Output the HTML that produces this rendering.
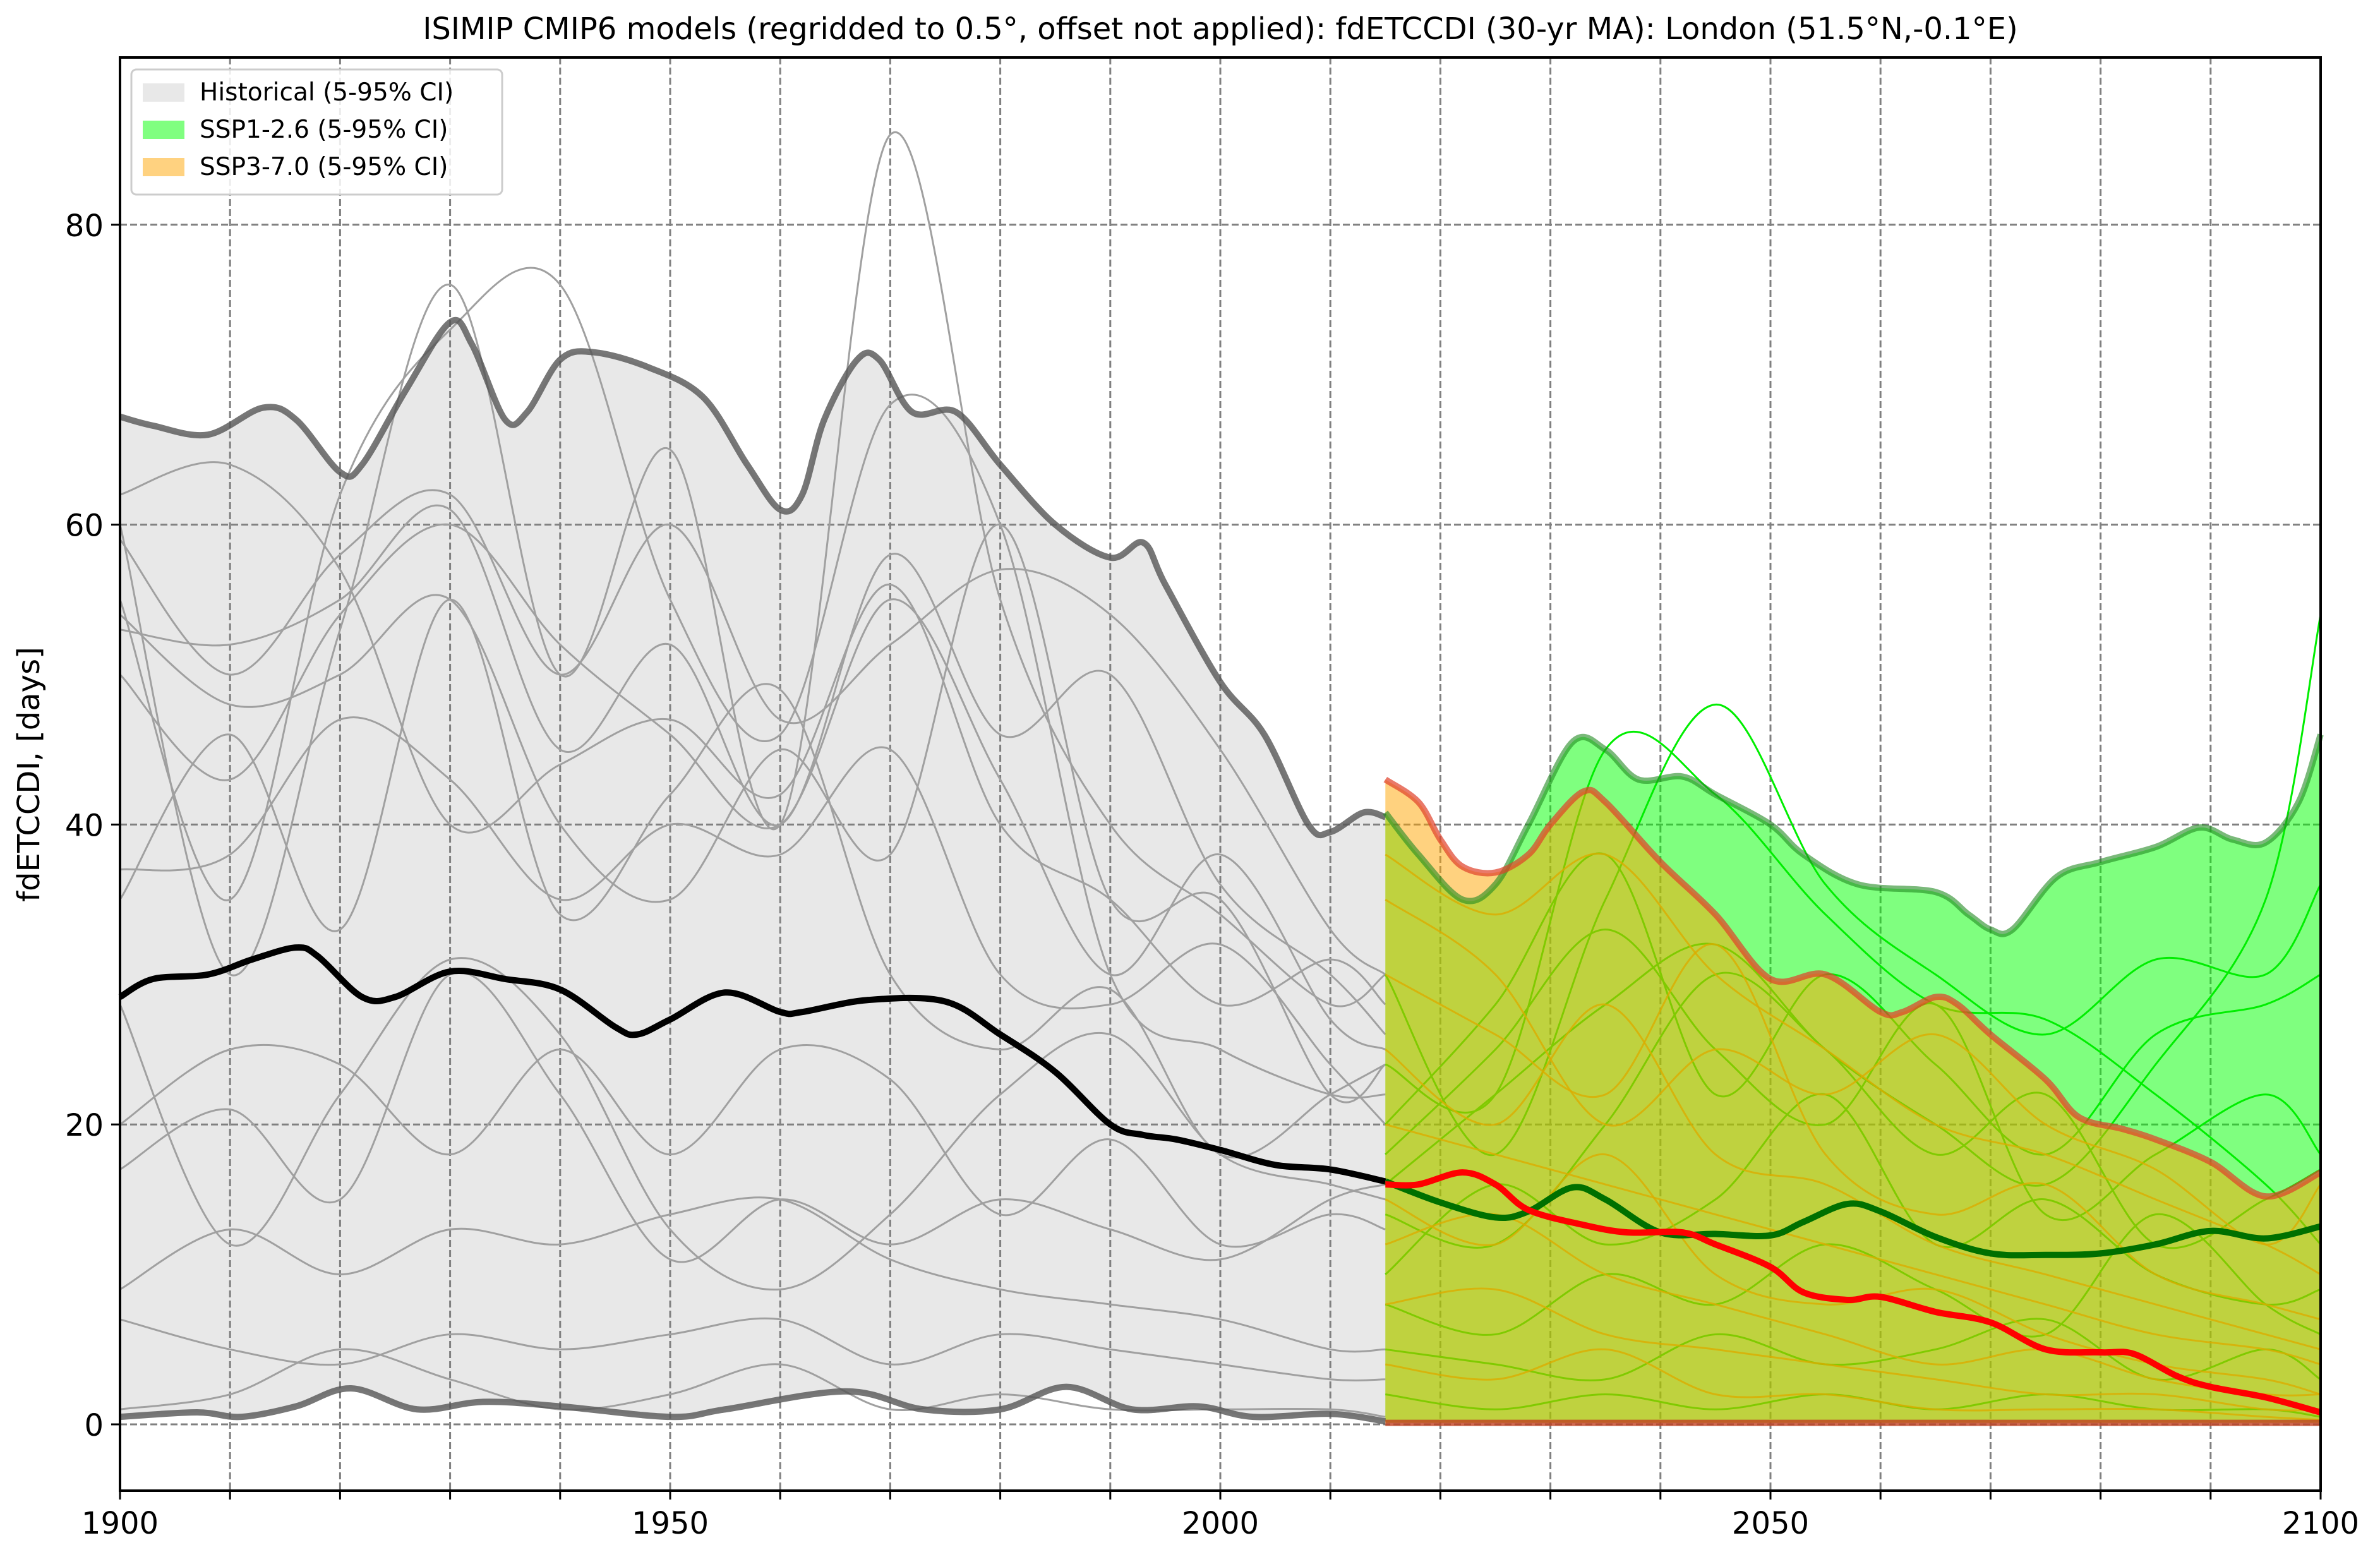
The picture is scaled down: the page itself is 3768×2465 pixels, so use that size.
<!DOCTYPE html>
<html><head><meta charset="utf-8"><style>
html,body{margin:0;padding:0;background:#fff}
svg{display:block;font-family:"DejaVu Sans","Liberation Sans",sans-serif}
</style></head><body>
<svg id="chart" width="3768" height="2465" viewBox="0 0 3768 2465" xmlns="http://www.w3.org/2000/svg">
<text x="1932" y="62" font-size="48" text-anchor="middle">ISIMIP CMIP6 models (regridded to 0.5°, offset not applied): fdETCCDI (30-yr MA): London (51.5°N,-0.1°E)</text>
<text transform="translate(62,1226) rotate(-90)" font-size="48" text-anchor="middle">fdETCCDI, [days]</text>
<g id="plot"></g>
</svg>
<script>
const histYears=[1900,1903,1908,1913,1916,1920,1922,1926,1930,1932,1935,1937,1940,1943,1948,1953,1957,1960,1962,1964,1967,1969,1972,1976,1980,1985,1990,1993,1995,2000,2004,2008,2010,2013,2015];
const histUpper=[67.2,66.6,66,67.8,67,63.5,64,69,73.5,72,67,67.5,71,71.5,70.5,68.5,64,61,62,67,71,71,67.5,67.5,64,60,57.8,58.8,56,49.5,46,40,39.5,40.8,40.5];
const histLowYears=[1900,1907,1911,1916,1921,1927,1933,1940,1950,1955,1966,1973,1980,1986,1992,1998,2003,2010,2015];
const histLower=[0.5,0.8,0.5,1.2,2.4,1,1.5,1.2,0.5,1,2.2,1,1,2.5,1,1.2,0.5,0.7,0.2];
const histMedYears=[1900,1903,1908,1912,1916,1918,1922,1925,1930,1935,1940,1945,1947,1950,1955,1960,1962,1968,1975,1980,1985,1990,1993,1996,2000,2005,2010,2015];
const histMedian=[28.5,29.7,30,31,31.8,31.2,28.5,28.5,30.2,29.7,29,26.5,26,27,28.8,27.5,27.5,28.3,28.2,26,23.5,20,19.3,19,18.3,17.3,17,16.2];
const ssp1Years=[2015,2018,2022,2025,2028,2032,2035,2038,2042,2045,2050,2053,2058,2065,2068,2070,2072,2076,2080,2085,2089,2092,2095,2098,2100];
const ssp1Upper=[40.8,38,35,36,40,45.5,45,43,43.2,42,40,38,36,35.5,34,33,33,36.5,37.5,38.5,39.8,39,38.8,41.5,46];
const ssp1MedYears=[2015,2020,2025,2028,2032,2035,2040,2045,2050,2053,2057,2060,2065,2070,2075,2080,2085,2090,2095,2100];
const ssp1Median=[16.2,14.8,13.8,14.2,15.8,15,12.8,12.7,12.6,13.5,14.7,14.2,12.5,11.4,11.3,11.4,12,12.9,12.4,13.2];
const ssp3Years=[2015,2018,2020,2022,2025,2028,2030,2033,2035,2040,2045,2050,2055,2060,2062,2065,2067,2070,2075,2078,2082,2085,2090,2095,2100];
const ssp3Upper=[43,41.5,39,37.2,36.8,38,40,42.2,41.5,37.5,34,29.7,30,27.5,27.5,28.5,28,26,23,20.5,19.7,19,17.5,15.2,16.8];
const ssp3MedYears=[2015,2018,2022,2025,2028,2033,2037,2042,2045,2050,2053,2057,2060,2065,2070,2075,2080,2083,2087,2090,2095,2100];
const ssp3Median=[16,16,16.8,16,14.3,13.3,12.8,12.8,12,10.5,8.8,8.3,8.5,7.5,6.8,5,4.8,4.7,3.2,2.5,1.8,0.8];
const futLowYears=[2015,2100];
const futLower=[0.1,0.1];
const modelYears=[1900,1910,1920,1930,1940,1950,1960,1970,1980,1990,2000,2010,2015];
const histModels=[
[59,50,58,62,50,60,47,52,57,54,45,33,30],
[53,52,55,61,45,52,40,58,46,50,36,30,26],
[50,43,54,60,52,46,40,55,43,30,38,27,25],
[62,64,57,40,44,47,42,56,40,35,28,31,28],
[37,38,47,43,35,40,38,45,30,28,32,24,20],
[35,46,33,55,34,42,49,30,25,29,18,22,24],
[28,12,22,31,26,13,9,14,22,26,18,16,15],
[20,25,24,18,25,18,25,23,14,19,12,14,13],
[17,21,15,30,22,11,15,12,15,13,11,15,16],
[9,13,10,13,12,14,15,11,9,8,7,5,5],
[7,5,4,6,5,6,7,4,6,5,4,3,3],
[1,2,5,3,1,2,4,1,2,1,1,1,0.5],
[54,48,50,55,40,35,45,38,60,35,35,22,24],
[60,30,53,76,50,65,40,86,55,40,34,28,30],
[55,35,62,73,76,55,46,68,60,30,25,22,22]];
const futYears=[2015,2025,2035,2045,2055,2065,2075,2085,2095,2100];
const ssp1Models=[
[24,22,45,42,34,28,27,22,16,12],
[30,18,35,48,36,30,26,31,30,36],
[20,28,38,22,30,24,18,26,28,30],
[18,25,33,25,20,28,14,18,22,18],
[14,12,20,30,25,18,22,12,15,17],
[10,16,12,15,22,12,15,10,8,9],
[8,6,10,8,12,9,6,14,8,6],
[5,4,3,6,4,5,7,3,5,3],
[2,1,2,1,2,1,2,1,1,0.5],
[16,22,28,32,25,20,16,24,35,54]];
const ssp3Models=[
[38,34,38,30,25,20,18,15,12,10],
[30,26,22,32,18,14,16,10,8,7],
[25,20,28,18,16,12,10,8,6,5],
[20,18,16,14,12,10,8,6,5,4],
[15,12,18,10,8,9,6,4,3,2],
[12,14,10,8,6,4,5,3,2,2],
[8,9,6,5,4,3,2,2,1,1],
[4,3,5,2,2,1,1,1,0.5,0.3],
[35,30,20,25,22,26,20,17,12,16]];
const xTicks=[1900,1950,2000,2050,2100];
const xMinor=[1910,1920,1930,1940,1960,1970,1980,1990,2010,2020,2030,2040,2060,2070,2080,2090];
const yTicks=[0,20,40,60,80];

const L=190,R=3674,T=91,B=2360;
const X=y=>L+(y-1900)*(R-L)/200;
const Y=v=>2255-v*23.74;
const NS='http://www.w3.org/2000/svg';
const g=document.getElementById('plot');
function mk(tag,attrs){const e=document.createElementNS(NS,tag);for(const k in attrs)e.setAttribute(k,attrs[k]);g.appendChild(e);return e;}
function pts(xs,vs){return xs.map((x,i)=>[X(x),Y(vs[i])]);}
function smooth(p,start){let d=start?('M'+p[0][0]+','+p[0][1]):'';
 if(!start)d+='L'+p[0][0]+','+p[0][1];
 for(let i=0;i<p.length-1;i++){const p0=p[i-1]||p[i],p1=p[i],p2=p[i+1],p3=p[i+2]||p2;
  const c1=[p1[0]+(p2[0]-p0[0])/6,p1[1]+(p2[1]-p0[1])/6],c2=[p2[0]-(p3[0]-p1[0])/6,p2[1]-(p3[1]-p1[1])/6];
  d+='C'+c1[0]+','+c1[1]+' '+c2[0]+','+c2[1]+' '+p2[0]+','+p2[1];}
 return d;}
function band(xu,vu,xl,vl){const up=pts(xu,vu),lo=pts(xl,vl).reverse();return smooth(up,true)+smooth(lo,false)+'Z';}

let e=mk('path',{d:band(histYears,histUpper,histLowYears,histLower),fill:'#e8e8e8'});


xMinor.concat(xTicks.slice(1,4)).forEach(yr=>{const l=mk('line',{x1:X(yr),x2:X(yr),y1:T,y2:B,stroke:'#808080','stroke-width':3,'stroke-dasharray':'11,5'});

});
yTicks.forEach(v=>{const l=mk('line',{x1:L,x2:R,y1:Y(v),y2:Y(v),stroke:'#808080','stroke-width':3,'stroke-dasharray':'11,5'});

});
histModels.forEach(m=>{const l=mk('path',{d:smooth(pts(modelYears,m),true),fill:'none',stroke:'#a0a0a0','stroke-width':3});

});
e=mk('path',{d:band(ssp1Years,ssp1Upper,futLowYears,futLower),fill:'#00ff00','fill-opacity':0.5});


ssp1Models.forEach(m=>{const l=mk('path',{d:smooth(pts(futYears,m),true),fill:'none',stroke:'#00ee00','stroke-width':3});

});
ssp3Models.forEach(m=>{const l=mk('path',{d:smooth(pts(futYears,m),true),fill:'none',stroke:'#b8b400','stroke-width':3,'stroke-opacity':0.8});

});
e=mk('path',{d:band(ssp3Years,ssp3Upper,futLowYears,futLower),fill:'#ffa500','fill-opacity':0.5});


function line(xs,vs,col,w,op,name){const l=mk('path',{d:smooth(pts(xs,vs),true),fill:'none',stroke:col,'stroke-width':w,'stroke-opacity':op,'stroke-linejoin':'round'});

}
line(histYears,histUpper,'#555',10,0.8,'historical-upper-line');
line(histLowYears,histLower,'#555',10,0.8,'historical-lower-line');
line(ssp1Years,ssp1Upper,'#228b22',10,0.6,'ssp126-upper-line');
line(ssp3Years,ssp3Upper,'#e0402a',10,0.7,'ssp370-upper-line');
line(futLowYears,futLower,'#c04020',10,0.8,'ssp-lower-line');
line(histMedYears,histMedian,'#000',10,1,'historical-median-line');
line(ssp1MedYears,ssp1Median,'#007000',10,1,'ssp126-median-line');
line(ssp3MedYears,ssp3Median,'#ff0000',10,1,'ssp370-median-line');
e=mk('rect',{x:L,y:T,width:R-L,height:B-T,fill:'none',stroke:'#000','stroke-width':4});


xTicks.concat(xMinor).forEach(yr=>{const t=mk('line',{x1:X(yr),x2:X(yr),y1:B,y2:B+14,stroke:'#000','stroke-width':3});

});
xTicks.forEach(yr=>{const t=mk('text',{x:X(yr),y:B+68,'font-size':48,'text-anchor':'middle'});t.textContent=yr;

});
yTicks.forEach(v=>{const t=mk('line',{x1:L-14,x2:L,y1:Y(v),y2:Y(v),stroke:'#000','stroke-width':3});


const s=mk('text',{x:L-26,y:Y(v)+18,'font-size':48,'text-anchor':'end'});s.textContent=v;

});
e=mk('rect',{x:208,y:110,width:587,height:198,rx:8,fill:'#fff','fill-opacity':0.85,stroke:'#ccc','stroke-width':3});


const legLabels=['Historical (5-95% CI)','SSP1-2.6 (5-95% CI)','SSP3-7.0 (5-95% CI)'];
const legColors=['#e8e8e8','#80ff80','#ffd280'];
legLabels.forEach((lab,i)=>{const yy=132+i*59;
const r=mk('rect',{x:226,y:yy,width:66,height:29,fill:legColors[i]});


const t=mk('text',{x:316,y:yy+27,'font-size':39});t.textContent=lab;

});
</script>
</body></html>
